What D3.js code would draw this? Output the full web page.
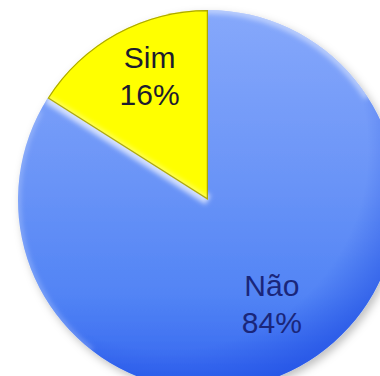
<!DOCTYPE html>
<html>
<head>
<meta charset="utf-8">
<script src="https://cdn.jsdelivr.net/npm/d3@7/dist/d3.min.js"></script>
<style>
  html, body { margin: 0; padding: 0; background: #ffffff; }
  svg { display: block; }
</style>
</head>
<body>
<script>
// Answers to the question, in percent
const categories = ["Não", "Sim"];
const values = [84, 16];
const labels = ["84%", "16%"];

const W = 380, H = 376;
const cx = 208, cy = 200, R = 190;

const svg = d3.select("body").append("svg")
  .attr("width", W).attr("height", H);

const defs = svg.append("defs");

// Blue slice shaded from light at the top to deep at the bottom
// (coordinates relative to the pie centre)
const blue = defs.append("linearGradient").attr("id", "gBlue")
  .attr("gradientUnits", "userSpaceOnUse")
  .attr("x1", 0).attr("y1", -R).attr("x2", 0).attr("y2", R);
blue.append("stop").attr("offset", 0).attr("stop-color", "#86a8fb");
blue.append("stop").attr("offset", 0.45).attr("stop-color", "#6a94f7");
blue.append("stop").attr("offset", 0.75).attr("stop-color", "#5284f5");
blue.append("stop").attr("offset", 1).attr("stop-color", "#3062ee");

// Darker rim towards the lower right
const rim = defs.append("radialGradient").attr("id", "gRim")
  .attr("gradientUnits", "userSpaceOnUse")
  .attr("cx", -40).attr("cy", -50).attr("r", R + 60);
rim.append("stop").attr("offset", 0.8).attr("stop-color", "#1a48e0").attr("stop-opacity", 0);
rim.append("stop").attr("offset", 1).attr("stop-color", "#1a48e0").attr("stop-opacity", 0.5);

const shadow = defs.append("filter").attr("id", "shadow")
  .attr("x", "-20%").attr("y", "-20%").attr("width", "140%").attr("height", "140%");
shadow.append("feDropShadow").attr("dx", 3).attr("dy", 4).attr("stdDeviation", 4)
  .attr("flood-color", "#000").attr("flood-opacity", 0.25);

const soft = defs.append("filter").attr("id", "soft")
  .attr("x", "-50%").attr("y", "-50%").attr("width", "200%").attr("height", "200%");
soft.append("feGaussianBlur").attr("stdDeviation", 2.5);

const pie = d3.pie().sort(null).value(d => d)(values);
const arc = d3.arc().innerRadius(0).outerRadius(R);

const fills = ["url(#gBlue)", "#ffff00"];
const g = svg.append("g").attr("transform", `translate(${cx},${cy})`);

pie.forEach((p, i) => {
  defs.append("clipPath").attr("id", "clip" + i)
    .append("path").attr("d", arc(p));
});

// Base slices with a soft drop shadow
g.append("g").attr("filter", "url(#shadow)")
  .selectAll("path").data(pie).join("path")
  .attr("d", arc)
  .attr("fill", (d, i) => fills[i]);

// Radial edge of a slice at angle a, from the centre to the rim
const edge = a => `M0,0L${Math.sin(a) * R},${-Math.cos(a) * R}`;
const rimArc = (a0, a1) => d3.arc().innerRadius(R).outerRadius(R)({startAngle: a0, endAngle: a1});

// Bevel on each slice
pie.forEach((p, i) => {
  const sg = g.append("g").attr("clip-path", `url(#clip${i})`);
  if (i === 0) {
    sg.append("circle").attr("cx", 0).attr("cy", 0).attr("r", R)
      .attr("fill", "url(#gRim)");
    // light upper rim
    sg.append("path").attr("d", rimArc(-0.2, 1.0))
      .attr("fill", "none").attr("stroke", "#e8efff")
      .attr("stroke-width", 8).attr("stroke-opacity", 0.55)
      .attr("filter", "url(#soft)");
    sg.append("path").attr("d", rimArc(3.8, 5.2))
      .attr("fill", "none").attr("stroke", "#e8efff")
      .attr("stroke-width", 5).attr("stroke-opacity", 0.3)
      .attr("filter", "url(#soft)");
  }
  [p.startAngle, p.endAngle].forEach(a => {
    sg.append("path").attr("d", edge(a))
      .attr("fill", "none")
      .attr("stroke", i === 0 ? "#eef3ff" : "#ffffd0")
      .attr("stroke-width", i === 0 ? 10 : 6)
      .attr("stroke-opacity", i === 0 ? 0.8 : 0.5)
      .attr("filter", "url(#soft)");
  });
  if (i === 1) {
    sg.append("path").attr("d", arc(p))
      .attr("fill", "none")
      .attr("stroke", "#8f8a00")
      .attr("stroke-width", 2.5)
      .attr("stroke-opacity", 0.75);
  }
});

// Labels: category on top, percentage below
const labelR = [116, 144];
const labelDx = [8, 11];
const textColors = ["#1a267a", "#1c1c2e"];
pie.forEach((p, i) => {
  const a = (p.startAngle + p.endAngle) / 2;
  const x = Math.sin(a) * labelR[i] + labelDx[i];
  const y = -Math.cos(a) * labelR[i];
  const t = g.append("text")
    .attr("x", x).attr("y", y)
    .attr("text-anchor", "middle")
    .attr("font-family", "Liberation Sans, Arial, sans-serif")
    .attr("font-size", 30)
    .attr("fill", textColors[i]);
  t.append("tspan").attr("x", x).attr("dy", "-0.18em").text(categories[i]);
  t.append("tspan").attr("x", x).attr("dy", 37).text(labels[i]);
});
</script>
</body>
</html>
